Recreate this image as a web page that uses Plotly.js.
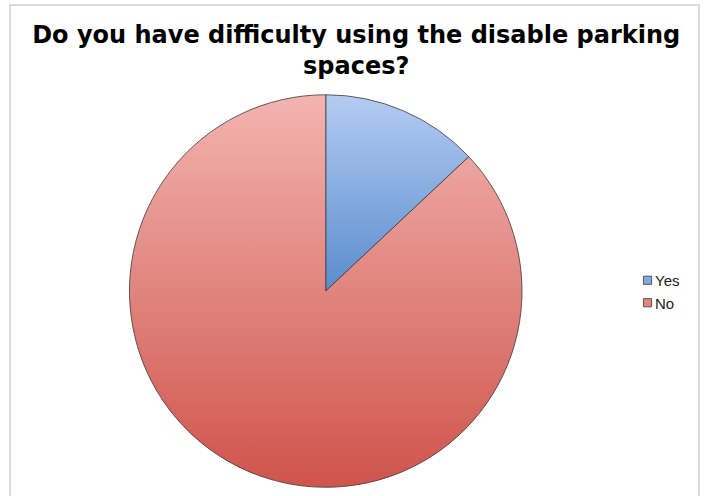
<!DOCTYPE html>
<html>
<head>
<meta charset="utf-8">
<script src="https://cdn.plot.ly/plotly-3.0.1.min.js"></script>
<style>
html,body{margin:0;padding:0;background:#fff;}
#chart{width:704px;height:496px;}
</style>
</head>
<body>
<div id="chart"></div>
<script>
const labels = ["Yes", "No"];
const values = [13, 87];
const colors = ["#85a8e0", "#e08680"];
const gradTop = ["#b4ccf3", "#f3b4b0"];
const gradBottom = ["#5a8ccd", "#cf544c"];

const data = [{
  type: "pie",
  labels: labels,
  values: values,
  sort: false,
  direction: "clockwise",
  rotation: 0,
  textinfo: "none",
  hoverinfo: "label+value",
  marker: {colors: colors, line: {color: "#3a3a3a", width: 0.8}},
  domain: {x: [0.1839, 0.7415], y: [0.014, 0.8125]}
}];

const layout = {
  width: 704, height: 496,
  margin: {l: 0, r: 0, t: 0, b: 0},
  paper_bgcolor: "#ffffff",
  title: {
    text: "Do you have difficulty using the disable parking<br>spaces?",
    font: {family: "DejaVu Sans, sans-serif", size: 24, color: "#000", weight: 700},
    x: 0.506, xanchor: "center", y: 0.913, yanchor: "top"
  },
  showlegend: true,
  legend: {
    x: 0.8736, xanchor: "left", y: 0.4123, yanchor: "middle",
    font: {family: "Liberation Sans, Arial, sans-serif", size: 15, color: "#222"},
    itemwidth: 30, tracegroupgap: 0, traceorder: "normal"
  },
  shapes: [{
    type: "rect", xref: "paper", yref: "paper",
    x0: 10/704, x1: 699/704, y0: -0.2, y1: 1 - 5/496,
    line: {color: "#d0d0d0", width: 1.5}, fillcolor: "rgba(0,0,0,0)"
  }]
};

Plotly.newPlot("chart", data, layout, {displayModeBar: false}).then(function(gd){
  const svg = gd.querySelector("svg.main-svg");
  const ns = "http://www.w3.org/2000/svg";
  let defs = svg.querySelector("defs");
  if (!defs) { defs = document.createElementNS(ns, "defs"); svg.insertBefore(defs, svg.firstChild); }
  labels.forEach(function(l, i){
    const g = document.createElementNS(ns, "linearGradient");
    g.setAttribute("id", "grad" + i);
    g.setAttribute("x1", "0"); g.setAttribute("y1", "0");
    g.setAttribute("x2", "0"); g.setAttribute("y2", "1");
    const s1 = document.createElementNS(ns, "stop");
    s1.setAttribute("offset", "0"); s1.setAttribute("stop-color", gradTop[i]);
    const s2 = document.createElementNS(ns, "stop");
    s2.setAttribute("offset", "1"); s2.setAttribute("stop-color", gradBottom[i]);
    g.appendChild(s1); g.appendChild(s2);
    defs.appendChild(g);
  });
  gd.querySelectorAll("g.slice path.surface").forEach(function(p, i){
    p.style.fill = "url(#grad" + i + ")";
  });
  // smaller legend swatches, closer to the text
  gd.querySelectorAll("g.legend path.legendpie").forEach(function(p, i){
    const t = p.getAttribute("transform") || "";
    const m = t.match(/translate\(([-\d.]+)[ ,]*([-\d.]*)\)/);
    const tx = m ? parseFloat(m[1]) : 20;
    const ty = m && m[2] ? parseFloat(m[2]) : 0;
    p.setAttribute("transform", "translate(" + (tx + 12.5) + "," + ty + ") scale(0.68)");
    p.style.fill = colors[i];
    p.style.strokeWidth = "1.2px";
  });
});
</script>
</body>
</html>
